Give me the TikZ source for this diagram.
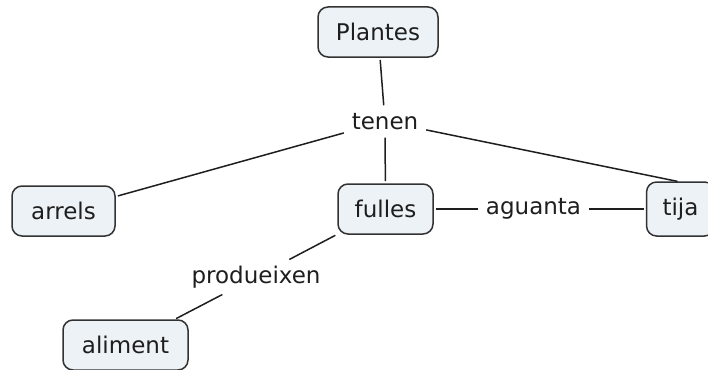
\documentclass[tikz,border=0pt]{standalone}
\usepackage{fontspec}
\setmainfont{DejaVu Sans}
\definecolor{conceptfill}{RGB}{237,242,246}
\definecolor{conceptdraw}{RGB}{50,50,50}
\definecolor{textgray}{RGB}{30,30,30}
\begin{document}
\begin{tikzpicture}[x=1pt, y=-1pt, outer sep=0pt, font=\fontsize{23}{27}\selectfont, text=textgray]
  \tikzstyle{concept}=[
    draw=conceptdraw,
    rectangle,
    rounded corners=10pt,
    minimum height=50pt,
    inner xsep=16pt,
    fill=conceptfill,
    anchor=center,
    line width=1.5pt
  ]
  \tikzstyle{link}=[inner sep=5pt, anchor=center]
  \tikzstyle{line} = [line width=1.5pt, draw=textgray, shorten <=3pt, shorten >=3pt]

  \useasboundingbox (0,0) rectangle (708,369);

  \node[concept, minimum width=120pt] (plantes) at (378,32) {Plantes};
  \node[link] (tenen) at (385,121.5) {tenen};
  \draw[line] (plantes) -- (tenen);

  \node[concept, minimum width=103pt] (arrels) at (63.5,211) {arrels};
  \node[concept, minimum width=95pt] (fulles) at (385.5,209) {fulles};
  \node[concept, minimum width=66pt, minimum height=54pt] (tija) at (680.5,209) {tija};
  \draw[line] (tenen) -- (arrels);
  \draw[line] (tenen) -- (fulles);
  \draw[line] (tenen) -- (tija.north);

  \node[link] (aguanta) at (533.5,209) {aguanta};
  \draw[line] (fulles) -- (aguanta);
  \draw[line] (aguanta) -- (tija);

  \node[link] (produeixen) at (256,277) {produeixen};
  \node[concept, minimum width=125pt] (aliment) at (125.5,345) {aliment};
  \draw[line] (fulles) -- (produeixen);
  \draw[line] (produeixen) -- (aliment);
\end{tikzpicture}
\end{document}
